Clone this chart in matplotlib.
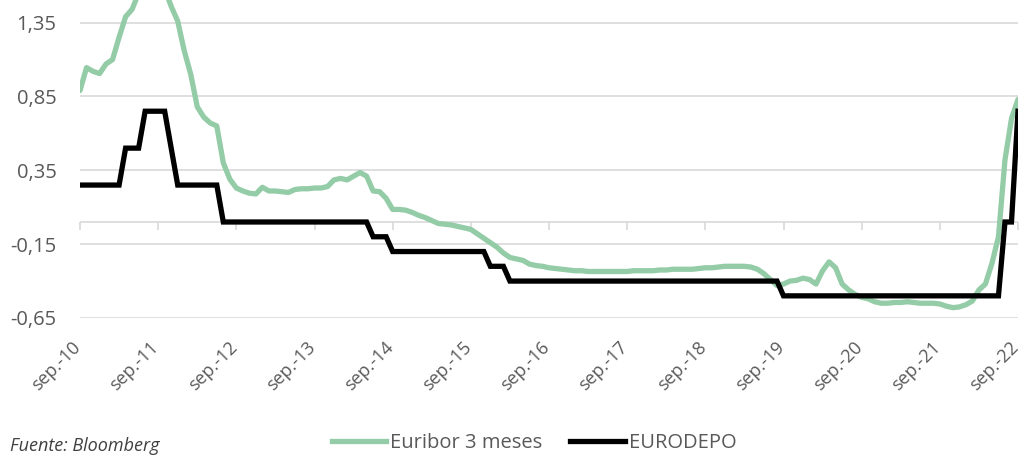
import matplotlib
matplotlib.use("Agg")
import matplotlib.pyplot as plt
import matplotlib.transforms as mtransforms
from matplotlib.lines import Line2D

plt.rcParams['font.family'] = ['Open Sans', 'DejaVu Sans']

# Monthly data, Sep 2010 .. Sep 2022
euribor_3m = [
    0.89, 1.045, 1.02, 1.005, 1.07, 1.10, 1.25, 1.39, 1.44, 1.55, 1.60, 1.55,
    1.55, 1.58, 1.46, 1.36, 1.16, 1.00, 0.78, 0.71, 0.67, 0.65, 0.40, 0.29,
    0.23, 0.21, 0.195, 0.19, 0.235, 0.21, 0.21, 0.205, 0.20, 0.22, 0.225, 0.225,
    0.23, 0.23, 0.24, 0.285, 0.295, 0.285, 0.31, 0.335, 0.31, 0.21, 0.205, 0.16,
    0.085, 0.085, 0.08, 0.065, 0.045, 0.03, 0.01, -0.01, -0.015, -0.02, -0.03, -0.04,
    -0.05, -0.08, -0.11, -0.14, -0.17, -0.21, -0.24, -0.25, -0.26, -0.285, -0.295, -0.30,
    -0.31, -0.315, -0.32, -0.325, -0.33, -0.33, -0.335, -0.335, -0.335, -0.335, -0.335, -0.335,
    -0.335, -0.33, -0.33, -0.33, -0.33, -0.325, -0.325, -0.32, -0.32, -0.32, -0.32, -0.315,
    -0.31, -0.31, -0.305, -0.30, -0.30, -0.30, -0.30, -0.305, -0.32, -0.35, -0.39, -0.43,
    -0.42, -0.40, -0.395, -0.38, -0.39, -0.42, -0.33, -0.27, -0.31, -0.42, -0.46, -0.49,
    -0.51, -0.52, -0.54, -0.55, -0.55, -0.545, -0.545, -0.54, -0.545, -0.55, -0.55, -0.55,
    -0.555, -0.57, -0.58, -0.575, -0.56, -0.535, -0.46, -0.42, -0.28, -0.10, 0.42, 0.70,
    0.83,
]

eurodepo = [
    0.25, 0.25, 0.25, 0.25, 0.25, 0.25, 0.25, 0.50, 0.50, 0.50, 0.75, 0.75,
    0.75, 0.75, 0.50, 0.25, 0.25, 0.25, 0.25, 0.25, 0.25, 0.25, 0.00, 0.00,
    0.00, 0.00, 0.00, 0.00, 0.00, 0.00, 0.00, 0.00, 0.00, 0.00, 0.00, 0.00,
    0.00, 0.00, 0.00, 0.00, 0.00, 0.00, 0.00, 0.00, 0.00, -0.10, -0.10, -0.10,
    -0.20, -0.20, -0.20, -0.20, -0.20, -0.20, -0.20, -0.20, -0.20, -0.20, -0.20, -0.20,
    -0.20, -0.20, -0.20, -0.30, -0.30, -0.30, -0.40, -0.40, -0.40, -0.40, -0.40, -0.40,
    -0.40, -0.40, -0.40, -0.40, -0.40, -0.40, -0.40, -0.40, -0.40, -0.40, -0.40, -0.40,
    -0.40, -0.40, -0.40, -0.40, -0.40, -0.40, -0.40, -0.40, -0.40, -0.40, -0.40, -0.40,
    -0.40, -0.40, -0.40, -0.40, -0.40, -0.40, -0.40, -0.40, -0.40, -0.40, -0.40, -0.40,
    -0.50, -0.50, -0.50, -0.50, -0.50, -0.50, -0.50, -0.50, -0.50, -0.50, -0.50, -0.50,
    -0.50, -0.50, -0.50, -0.50, -0.50, -0.50, -0.50, -0.50, -0.50, -0.50, -0.50, -0.50,
    -0.50, -0.50, -0.50, -0.50, -0.50, -0.50, -0.50, -0.50, -0.50, -0.50, 0.00, 0.00,
    0.75,
]

x_tick_labels = ["sep.-10", "sep.-11", "sep.-12", "sep.-13", "sep.-14", "sep.-15",
                 "sep.-16", "sep.-17", "sep.-18", "sep.-19", "sep.-20", "sep.-21", "sep.-22"]
y_ticks = [-0.65, -0.15, 0.35, 0.85, 1.35]

GREEN = "#93cca6"
GRID = "#d9d9d9"
TXT = "#595959"

fig = plt.figure(figsize=(10.24, 4.58), dpi=100)
ax = fig.add_axes([80 / 1024, (458 - 318) / 458, (1018 - 80) / 1024, 318 / 458])

months = list(range(len(euribor_3m)))
ax.set_xlim(0, len(euribor_3m) - 1)
ax.set_ylim(-0.65, 1.503)

# gridlines
for yv in y_ticks:
    ax.axhline(yv, color=GRID, lw=1.2, zorder=1)

# category axis at zero with tick marks pointing down
ax.axhline(0, color=GRID, lw=1.2, zorder=1)
tick_pos = list(range(0, len(euribor_3m), 12))
ax.plot(tick_pos, [0] * len(tick_pos), linestyle="none", marker="|",
        markersize=5.5, markeredgewidth=1.2, color=GRID, zorder=1, clip_on=False,
        transform=ax.transData + mtransforms.ScaledTranslation(0, -3.8 / 100, fig.dpi_scale_trans))

ax.plot(months, euribor_3m, color=GREEN, lw=3.8, solid_joinstyle="round",
        solid_capstyle="round", zorder=3)
ax.plot(months, eurodepo, color="black", lw=3.8, solid_joinstyle="miter", zorder=4)

for s in ax.spines.values():
    s.set_visible(False)

ax.set_yticks(y_ticks)
ax.set_yticklabels([f"{v:.2f}".replace(".", ",") for v in y_ticks])
ax.tick_params(axis="y", length=0, pad=17, labelsize=14.5, labelcolor=TXT)
ax.set_xticks([])

# rotated x labels
lab_trans = ax.get_xaxis_transform() + mtransforms.ScaledTranslation(-2 / 100, -27 / 100, fig.dpi_scale_trans)
for tp, lab in zip(tick_pos, x_tick_labels):
    ax.text(tp, 0, lab, transform=lab_trans, rotation=45, rotation_mode="anchor",
            ha="right", va="center", fontsize=13, color=TXT)

handles = [Line2D([], [], color=GREEN, lw=3.8), Line2D([], [], color="black", lw=3.8)]
fig.legend(handles, ["Euribor 3 meses", "EURODEPO"], loc="center",
           bbox_to_anchor=(534 / 1024, 1 - 443 / 458), ncol=2, frameon=False,
           fontsize=14.5, handlelength=2.7, handletextpad=0.2, columnspacing=1.4,
           labelcolor=TXT)

fig.text(10 / 1024, 1 - 446 / 458, "Fuente: Bloomberg", style="italic",
         fontsize=13, color="#404040", ha="left", va="center")

fig.savefig("out.png", dpi=100)
